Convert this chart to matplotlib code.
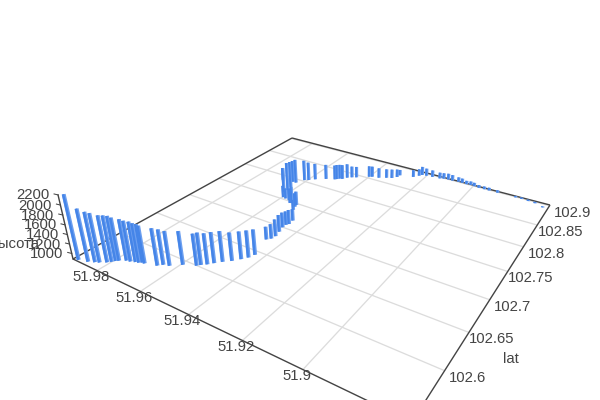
import numpy as np
import matplotlib
matplotlib.use('Agg')
import matplotlib.pyplot as plt
from matplotlib.collections import LineCollection

lon = [51.9900,51.9865,51.9844,51.9830,51.9810,51.9800,51.9793,51.9785,51.9765,51.9750,51.9734,
       51.9722,51.9713,51.9703,51.9659,51.9646,51.9625,51.9593,51.9552,51.9543,51.9528,51.9514,
       51.9496,51.9474,51.9455,51.9441,51.9433,51.9460,51.9449,51.9446,51.9453,51.9461,51.9461,
       51.9455,51.9458,51.9503,51.9512,51.9515,51.9539,51.9545,51.9562,51.9581,51.9595,51.9619,51.9685,51.9616,
       51.9621,51.9641,51.9627,51.9610,51.9596,51.9577,51.9541,51.9508,51.9502,51.9494,51.9484,
       51.9473,51.9458,51.9442,51.9400,51.9389,51.9361,51.9334,51.9314,51.9300,51.9297,51.9243,
       51.9227,51.9219,51.9201,51.9175,51.9143,51.9128,51.9109,51.9091,51.9065,51.9049,51.9029,
       51.9012,51.8996,51.8975,51.8952,51.8932,51.8897,51.8824,51.8800,51.8773,51.8746,51.8712]
lat = [102.546,102.549,102.552,102.554,102.558,102.561,102.564,102.566,102.570,102.571,102.573,
       102.574,102.576,102.576,102.580,102.584,102.586,102.594,102.600,102.603,102.607,102.612,
       102.618,102.624,102.631,102.637,102.644,102.672,102.676,102.682,102.691,102.700,102.706,
       102.709,102.717,102.736,102.743,102.747,102.748,102.747,102.752,102.753,102.754,102.7645,102.789,102.771,
       102.779,102.792,102.792,102.803,102.806,102.812,102.820,102.825,102.827,102.830,102.831,
       102.837,102.841,102.844,102.854,102.856,102.858,102.863,102.866,102.872,102.878,102.883,
       102.890,102.894,102.895,102.896,102.897,102.899,102.900,102.900,102.901,102.901,102.900,
       102.901,102.900,102.899,102.899,102.899,102.899,102.899,102.899,102.898,102.897,102.892]
alt = [2229,1977,1922,1902,1856,1843,1818,1779,1745,1731,1723,1702,1681,1667,1657,1618,1603,1584,
       1549,1557,1531,1532,1527,1480,1468,1456,1424,1163,1201,1254,1257,1215,1187,1203,1144,1118,
       1199,1201,1265,1230,1124,1125,1158,1470,1179,1546,1503,1403,1452,1372,1322,1272,1239,1230,1239,1231,
       1231,1223,1155,1147,1147,1139,1121,1096,1095,1070,1019,1053,1045,1089,1062,1045,1027,1018,
       1026,1018,991,983,965,965,965,948,947,947,939,913,913,913,913,904]
lon_ticks = [51.98, 51.96, 51.94, 51.92, 51.9]
lat_ticks = [102.6, 102.65, 102.7, 102.75, 102.8, 102.85, 102.9]
alt_ticks = [1000, 1200, 1400, 1600, 1800, 2000, 2200]

LON0, LON_SPAN = 51.992, 0.1227
LAT0, LAT_SPAN = 102.544, 0.358
ALT0, ALT_SPAN = 880.0, 1320.0
a, b, c, d, e, f, g, h = 216.8, 357, 73, 37.9, -55.8, 259, -0.2965, 0.4725
p, q, r = -17.8, -73.6, -0.049

def project(lo, la, z=ALT0):
    u = (LON0 - np.asarray(lo, float)) / LON_SPAN
    v = (np.asarray(la, float) - LAT0) / LAT_SPAN
    t = (np.asarray(z, float) - ALT0) / ALT_SPAN
    w = g * u + h * v + 1 + r * t
    return (a * u + b * v + c + p * t) / w, (d * u + e * v + f + q * t) / w, w

LON_MIN, LON_MAX = LON0 - LON_SPAN, LON0
LAT_MIN, LAT_MAX = LAT0, LAT0 + LAT_SPAN

fig = plt.figure(figsize=(6, 4), dpi=100)
ax = fig.add_axes([0, 0, 1, 1])
ax.set_xlim(0, 600); ax.set_ylim(400, 0); ax.axis('off')
FONT = ['Liberation Sans', 'DejaVu Sans']
TXT = '#444444'
PX = 72 / 100
FS = 10.7

def seg(lo0, la0, lo1, la1, **kw):
    x0, y0, _ = project(lo0, la0); x1, y1, _ = project(lo1, la1)
    ax.plot([x0, x1], [y0, y1], solid_capstyle='butt', **kw)

for lo in lon_ticks:
    seg(lo, LAT_MIN, lo, LAT_MAX, color='#dcdcdc', lw=1.3 * PX, zorder=1)
for la in lat_ticks:
    seg(LON_MIN, la, LON_MAX, la, color='#dcdcdc', lw=1.3 * PX, zorder=1)
for s in [(LON_MAX, LAT_MIN, LON_MAX, LAT_MAX), (LON_MAX, LAT_MAX, LON_MIN, LAT_MAX),
          (LON_MIN, LAT_MAX, LON_MIN, LAT_MIN), (LON_MIN, LAT_MIN, LON_MAX, LAT_MIN)]:
    seg(*s, color='#444444', lw=1.4 * PX, zorder=2)

xb, yb, wb = project(lon, lat)
xt, yt, _ = project(lon, lat, alt)
order = np.argsort(-wb)
width = 4.0 / wb
ax.add_collection(LineCollection([[(xb[i], yb[i]), (xt[i], yt[i])] for i in order],
                                 colors='#6c9ff0', linewidths=width[order] * PX, capstyle='butt', zorder=3))
ax.add_collection(LineCollection([[(xb[i] - width[i] * .15, yb[i]), (xt[i] - width[i] * .15, yt[i])] for i in order],
                                 colors='#4585e8', linewidths=width[order] * .6 * PX, capstyle='butt', zorder=3))

def label(x, y, s, dx, dy):
    ax.annotate(s, (x, y), xytext=(dx * PX, -dy * PX), textcoords='offset points', ha='center', va='center',
                fontsize=FS, color=TXT, family=FONT, annotation_clip=False)

for lo in lon_ticks:
    x, y, _ = project(lo, LAT_MIN)
    label(x, y, f'{lo:g}', -6, 6.5)
for la in lat_ticks:
    x, y, _ = project(LON_MIN, la)
    label(x, y, f'{la:g}', 23, 7)
for z in alt_ticks:
    x, y, _ = project(LON_MAX, LAT_MIN, z)
    ax.plot([x, x - 4], [y, y - 1], color=TXT, lw=1 * PX, zorder=2)
    label(x, y, f'{z}', -25, 0.5)
x0, y0, _ = project(LON_MAX, LAT_MIN, ALT0)
x1, y1, _ = project(LON_MAX, LAT_MIN, alt_ticks[-1])
ax.plot([x0, x1], [y0, y1], color=TXT, lw=1.4 * PX, zorder=2)
ax.text(39, 244, 'высота', ha='right', va='center', fontsize=FS, color=TXT, family=FONT)
ax.text(511, 359, 'lat', ha='center', va='center', fontsize=FS, color=TXT, family=FONT)
fig.savefig('out.png', dpi=100)
